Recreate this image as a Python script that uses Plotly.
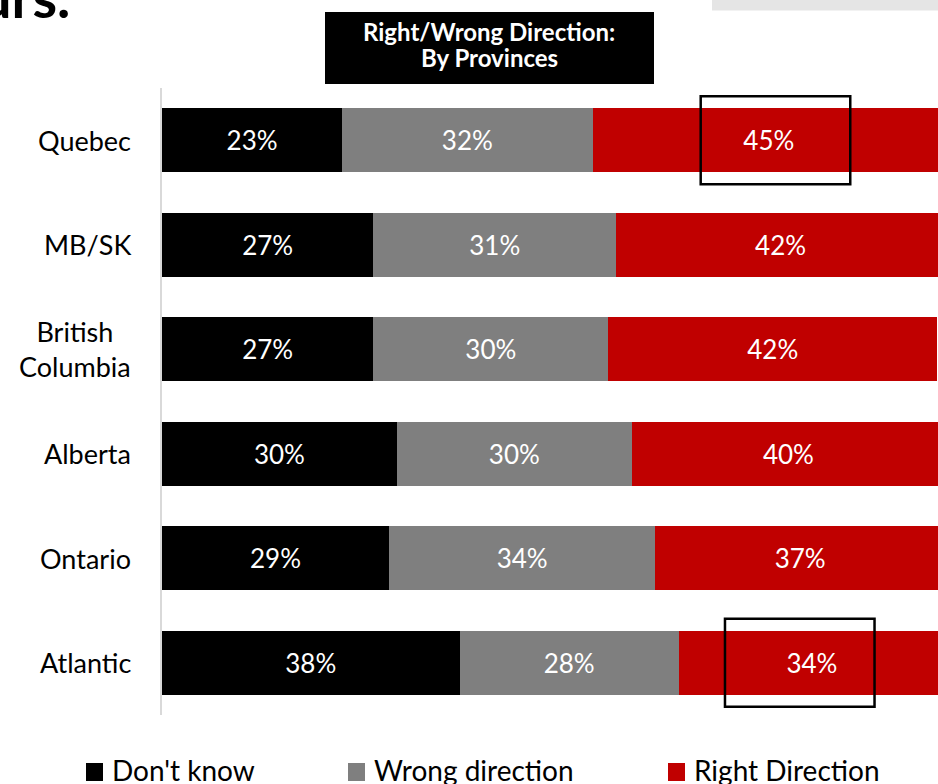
import plotly.graph_objects as go

provinces = ["Quebec", "MB/SK", "British<br>Columbia", "Alberta", "Ontario", "Atlantic"]
dont_know = [23, 27, 27, 30, 29, 38]
wrong_direction = [32, 31, 30, 30, 34, 28]
right_direction = [45, 42, 42, 40, 37, 34]

series = [
    ("Don't know", dont_know, "#000000"),
    ("Wrong direction", wrong_direction, "#7f7f7f"),
    ("Right Direction", right_direction, "#c00000"),
]

W, H = 938, 784
ML, MR, MT, MB = 162, 0, 88, 69
PW, PH = W - ML - MR, H - MT - MB

def px_x(px):
    return (px - ML) / PW

def px_y(py):
    return (H - MB - py) / PH

FONT = "Lato"

fig = go.Figure()
for name, vals, color in series:
    fig.add_trace(go.Bar(
        y=provinces, x=vals, name=name, orientation="h",
        marker=dict(color=color, line=dict(width=0)),
        text=[f"{v}%" for v in vals], textposition="inside",
        insidetextanchor="middle",
        textfont=dict(color="white", size=26, family=FONT),
        showlegend=False, hoverinfo="skip",
    ))

# category labels beside the axis
for p in provinces:
    fig.add_annotation(x=px_x(133), xref="paper", y=p, yref="y",
                       text=p, showarrow=False, xanchor="right", align="center",
                       font=dict(size=27, family=FONT, color="black"))

# highlight boxes around selected segments
highlights = [("Quebec", 68.8, 87.9), ("Atlantic", 71.9, 91.0)]
idx = {p: i for i, p in enumerate(provinces)}
for p, x0, x1 in highlights:
    i = idx[p]
    fig.add_shape(type="rect", xref="x", yref="y", x0=x0, x1=x1,
                  y0=i - 0.42, y1=i + 0.42,
                  line=dict(color="black", width=2.5), fillcolor="rgba(0,0,0,0)")

# heading box
fig.add_shape(type="rect", xref="paper", yref="paper",
              x0=px_x(325), x1=px_x(654), y0=px_y(84), y1=px_y(12),
              fillcolor="black", line=dict(width=0))
for line, cy in [("Right/Wrong Direction:", 31), ("By Provinces", 57.5)]:
    fig.add_annotation(x=px_x(489), y=px_y(cy), xref="paper", yref="paper",
                       text=f"<b>{line}</b>", showarrow=False,
                       xanchor="center", yanchor="middle",
                       font=dict(color="white", size=24, family=FONT))

# slide title fragment and grey panel at the top
fig.add_annotation(x=px_x(-22), y=px_y(32.5), xref="paper", yref="paper",
                   text="<b>urs.</b>", showarrow=False, xanchor="left", yanchor="bottom",
                   font=dict(color="black", size=56, family=FONT))
fig.add_shape(type="rect", xref="paper", yref="paper",
              x0=px_x(712), x1=px_x(945), y0=px_y(10.5), y1=px_y(-5),
              fillcolor="#e5e5e5", line=dict(width=0))

# legend row along the bottom: swatch plus series name
legend_x = [86, 348, 668]
for (name, vals, color), lx in zip(series, legend_x):
    fig.add_shape(type="rect", xref="paper", yref="paper",
                  x0=px_x(lx), x1=px_x(lx + 17), y0=px_y(781), y1=px_y(763),
                  fillcolor=color, line=dict(width=0))
    fig.add_annotation(x=px_x(lx + 24), y=px_y(770), xref="paper", yref="paper",
                       text=name, showarrow=False, xanchor="left", yanchor="middle",
                       font=dict(size=28, family=FONT, color="black"))

fig.update_layout(
    width=W, height=H, barmode="stack", bargap=0.39,
    margin=dict(l=ML, r=MR, t=MT, b=MB, pad=0),
    plot_bgcolor="white", paper_bgcolor="white",
    showlegend=False,
    xaxis=dict(range=[0, PW / 7.83], visible=False, fixedrange=True),
    yaxis=dict(autorange="reversed", showticklabels=False, showgrid=False,
               showline=True, linecolor="#d9d9d9", linewidth=2, ticks="",
               zeroline=False),
)

fig.write_html("out.html")
